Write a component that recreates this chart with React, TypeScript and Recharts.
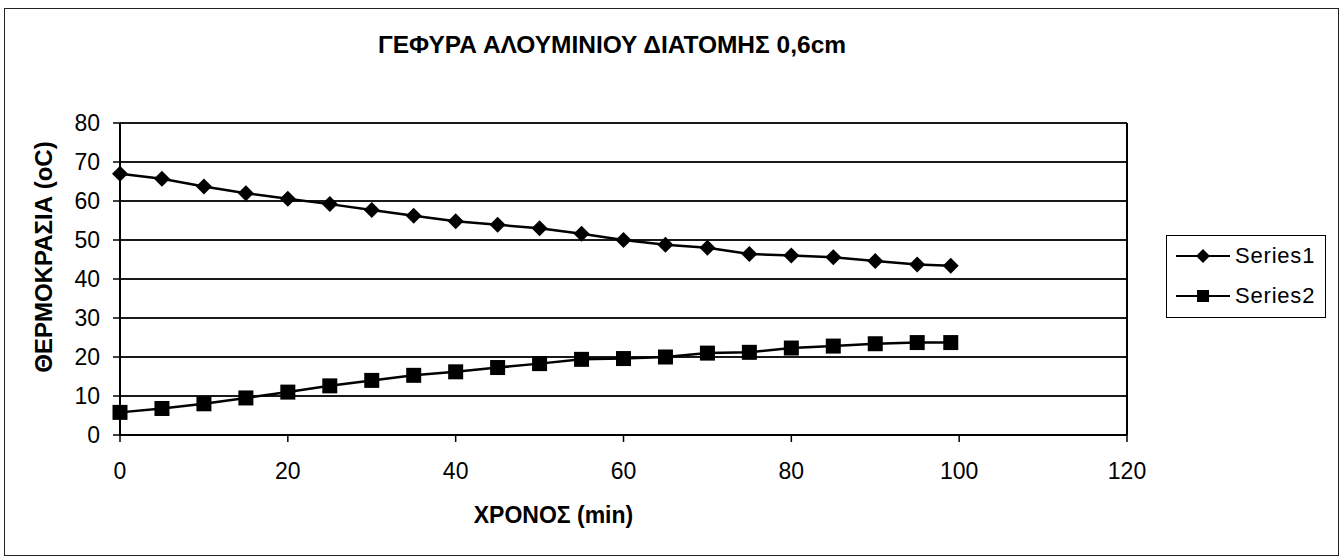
import React from 'react';
import { LineChart, Line, XAxis, YAxis, CartesianGrid, Legend, ReferenceLine, Label } from 'recharts';

const timeMin = [0, 5, 10, 15, 20, 25, 30, 35, 40, 45, 50, 55, 60, 65, 70, 75, 80, 85, 90, 95, 99];
const series1 = [67.0, 65.7, 63.7, 62.0, 60.6, 59.2, 57.7, 56.2, 54.8, 53.9, 53.0, 51.6, 50.0, 48.8, 48.0, 46.4, 46.0, 45.6, 44.6, 43.7, 43.4];
const series2 = [5.8, 6.8, 8.0, 9.5, 11.0, 12.6, 14.0, 15.3, 16.2, 17.3, 18.3, 19.4, 19.6, 20.0, 21.0, 21.2, 22.3, 22.8, 23.4, 23.7, 23.7];
const xTicks = [0, 20, 40, 60, 80, 100, 120];
const yTicks = [0, 10, 20, 30, 40, 50, 60, 70, 80];
const seriesNames = ['Series1', 'Series2'];
const titleText = 'ΓΕΦΥΡΑ ΑΛΟΥΜΙΝΙΟΥ ΔΙΑΤΟΜΗΣ 0,6cm';
const xLabelText = 'ΧΡΟΝΟΣ (min)';
const yLabelText = 'ΘΕΡΜΟΚΡΑΣΙΑ (oC)';

const data = timeMin.map((t, i) => ({ t, s1: series1[i], s2: series2[i] }));

const FONT = '"Liberation Sans", Arial, Helvetica, sans-serif';

const Diamond = (props: any) => {
  const { cx, cy } = props;
  if (cx == null || cy == null) return null;
  const r = 8;
  return <polygon points={`${cx},${cy - r} ${cx + r},${cy} ${cx},${cy + r} ${cx - r},${cy}`} fill="#000" />;
};

const Square = (props: any) => {
  const { cx, cy } = props;
  if (cx == null || cy == null) return null;
  const h = 7.5;
  return <rect x={cx - h} y={cy - h} width={h * 2} height={h * 2} fill="#000" />;
};

const LegendBox = () => (
  <div
    style={{
      border: '1.5px solid #000',
      background: '#fff',
      width: 160,
      height: 83,
      boxSizing: 'border-box',
      fontFamily: FONT,
      fontSize: 22,
      color: '#000',
      position: 'relative',
    }}
  >
    {seriesNames.map((name, i) => (
      <div key={name} style={{ position: 'absolute', left: 0, top: 20 + i * 40 - 13, height: 26, display: 'flex', alignItems: 'center' }}>
        <svg width={66} height={26} style={{ display: 'block' }}>
          <line x1={9} y1={13} x2={63} y2={13} stroke="#000" strokeWidth={1.8} />
          {i === 0 ? (
            <polygon points="36,6 43,13 36,20 29,13" fill="#000" />
          ) : (
            <rect x={30} y={7} width={12} height={12} fill="#000" />
          )}
        </svg>
        <span style={{ marginLeft: 2, letterSpacing: 0.8 }}>{name}</span>
      </div>
    ))}
  </div>
);

export default function App() {
  return (
    <div style={{ position: 'absolute', left: 0, top: 0, width: 1343, height: 560, background: '#fff' }}>
      <div style={{ position: 'absolute', left: 4, top: 8, width: 1335, height: 548, border: '1.5px solid #222', boxSizing: 'border-box' }} />
      <div
        style={{
          position: 'absolute',
          left: 0,
          width: 1224,
          top: 31,
          textAlign: 'center',
          fontFamily: FONT,
          fontWeight: 'bold',
          fontSize: 24.5,
          color: '#000',
          lineHeight: '28px',
        }}
      >
        {titleText}
      </div>
      <div style={{ position: 'absolute', left: 0, top: 0 }}>
        <LineChart width={1343} height={560} data={data} margin={{ top: 123, right: 216, bottom: 0, left: 0 }}>
          <CartesianGrid horizontal vertical={false} stroke="#000" strokeWidth={2} strokeOpacity={0.9} />
          <ReferenceLine x={120} stroke="#000" strokeWidth={2} ifOverflow="extendDomain" />
          <XAxis
            type="number"
            dataKey="t"
            domain={[0, 120]}
            ticks={xTicks}
            interval={0}
            height={125}
            stroke="#000"
            strokeWidth={2}
            tickSize={7}
            tickMargin={21}
            tick={{ fill: '#000', fontSize: 23, fontFamily: FONT }}
            tickLine={{ stroke: '#000', strokeWidth: 1.5 }}
          >
            <Label
              content={(p: any) => {
                const vb = p.viewBox || {};
                const x = vb.x + vb.width / 2 - 70;
                return (
                  <text x={x} y={vb.y + 88} textAnchor="middle" fontFamily={FONT} fontWeight="bold" fontSize={23} fill="#000">
                    {xLabelText}
                  </text>
                );
              }}
            />
          </XAxis>
          <YAxis
            type="number"
            domain={[0, 80]}
            ticks={yTicks}
            interval={0}
            width={120}
            stroke="#000"
            strokeWidth={2}
            tickSize={7}
            tickMargin={13}
            tick={{ fill: '#000', fontSize: 23, fontFamily: FONT }}
            tickLine={{ stroke: '#000', strokeWidth: 1.5 }}
          >
            <Label
              content={(p: any) => {
                const vb = p.viewBox || {};
                const x = vb.x + 52;
                const y = vb.y + vb.height / 2 - 22;
                return (
                  <text
                    x={x}
                    y={y}
                    transform={`rotate(-90 ${x} ${y})`}
                    textAnchor="middle"
                    fontFamily={FONT}
                    fontWeight="bold"
                    fontSize={24}
                    fill="#000"
                  >
                    {yLabelText}
                  </text>
                );
              }}
            />
          </YAxis>
          <Legend
            layout="horizontal"
            align="center"
            verticalAlign="middle"
            content={() => <LegendBox />}
            wrapperStyle={{ position: 'absolute', left: 1166, top: 235, width: 160, height: 83 }}
          />
          <Line
            type="linear"
            dataKey="s1"
            name={seriesNames[0]}
            stroke="#000"
            strokeWidth={2.5}
            dot={<Diamond />}
            activeDot={false}
            isAnimationActive={false}
          />
          <Line
            type="linear"
            dataKey="s2"
            name={seriesNames[1]}
            stroke="#000"
            strokeWidth={2.5}
            dot={<Square />}
            activeDot={false}
            isAnimationActive={false}
          />
        </LineChart>
      </div>
    </div>
  );
}
